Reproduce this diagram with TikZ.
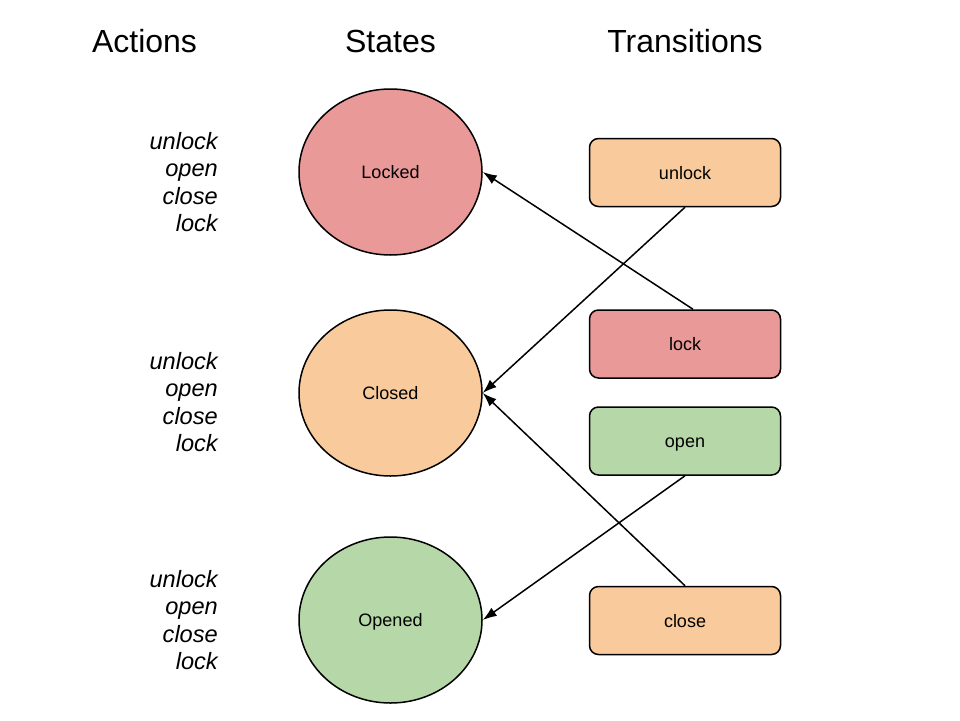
\documentclass[tikz,border=0pt]{standalone}
\usepackage{fontspec}
\setmainfont{Liberation Sans}
\usetikzlibrary{shapes.geometric,arrows.meta}
\definecolor{cred}{HTML}{EA9999}
\definecolor{corange}{HTML}{F9CB9C}
\definecolor{cgreen}{HTML}{B6D7A8}
\begin{document}
\begin{tikzpicture}[x=1pt,y=-1pt,
  header/.style={font=\fontsize{32}{38}\selectfont, anchor=base, inner sep=0pt},
  act/.style={font=\fontsize{23.6}{27}\selectfont\itshape, anchor=base east, inner sep=0pt},
  statenode/.style={ellipse, draw=black, line width=1.5pt, minimum width=183pt, minimum height=166pt, inner sep=0pt, text height=13pt, text depth=0pt, font=\fontsize{18}{22}\selectfont},
  trans/.style={rectangle, rounded corners=9pt, draw=black, line width=1.5pt, minimum width=191pt, minimum height=68pt, inner sep=0pt, text height=13pt, text depth=0pt, font=\fontsize{18}{22}\selectfont},
  conn/.style={line width=1.5pt, -{Latex[length=14pt,width=10pt]}}
]
\useasboundingbox (0,0) rectangle (960,720);
\fill[white] (0,0) rectangle (960,720);
% headers
\node[header] (hA) at (144.5,52) {Actions};
\node[header] (hS) at (390.5,52) {States};
\node[header] (hT) at (685,52) {Transitions};
% action lists
\foreach \g/\y in {1/149,2/369,3/587}{
  \node[act] (u\g) at (218,\y) {unlock};
  \node[act] (o\g) at (218,\y+27.6) {open};
  \node[act] (c\g) at (218,\y+55.2) {close};
  \node[act] (l\g) at (218,\y+82.8) {lock};
}
% states
\node[statenode, fill=cred] (locked) at (390.5,172) {Locked};
\node[statenode, fill=corange] (closed) at (390.5,393) {Closed};
\node[statenode, fill=cgreen] (opened) at (390.5,620) {Opened};
% transitions
\node[trans, fill=corange] (tunlock) at (685,172.5) {unlock};
\node[trans, fill=cred] (tlock) at (685,344) {lock};
\node[trans, fill=cgreen] (topen) at (685,441) {open};
\node[trans, fill=corange] (tclose) at (685,620.5) {close};
% connectors
\draw[conn] ([xshift=8pt]tlock.north) -- (locked.east);
\draw[conn] (tunlock.south) -- (closed.east);
\draw[conn] (topen.south) -- (opened.east);
\draw[conn] (tclose.north) -- (closed.east);
\end{tikzpicture}
\end{document}
